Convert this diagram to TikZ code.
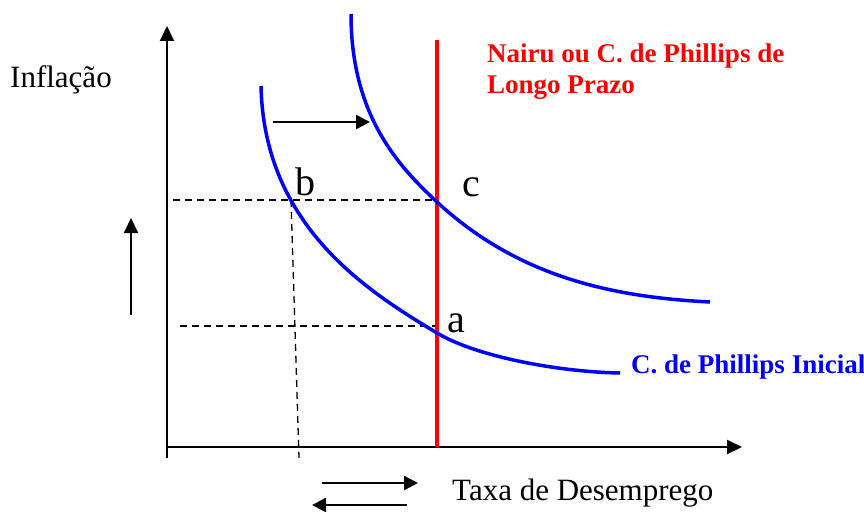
\documentclass[tikz,border=0pt]{standalone}
\usepackage{fontspec}
\setmainfont{Liberation Serif}
\usetikzlibrary{arrows.meta}

\begin{document}
\begin{tikzpicture}[
  x=1pt, y=-1pt,
  axis/.style={line width=2pt, -{Triangle[length=15pt,width=14pt]}},
  arrow/.style={line width=2.5pt, -{Triangle[length=14pt,width=14pt]}},
  guide/.style={line width=1.3pt, dash pattern=on 7pt off 5pt},
  curve/.style={blue, line width=3.5pt},
  label/.style={inner sep=0pt, anchor=base west, font=\fontsize{31}{36}\selectfont},
  point/.style={inner sep=0pt, anchor=base west, font=\fontsize{40}{44}\selectfont},
  tag/.style={inner sep=0pt, anchor=base west, align=left, font=\bfseries\fontsize{27}{31}\selectfont}
]
\useasboundingbox (0,0) rectangle (864,511);
% axes
\coordinate (ybot) at (167,458);
\coordinate (ytop) at (167,26);
\coordinate (xleft) at (167,447);
\coordinate (xright) at (742,447);
\draw[axis] (ybot) -- (ytop);
\draw[axis] (xleft) -- (xright);
\node[label] (inflacao) at (10,88) {Inflação};
\node[label] (taxa) at (452,500) {Taxa de Desemprego};
% points and guides
\coordinate (pb) at (291,200);
\coordinate (pc) at (437,200);
\coordinate (pa) at (437,326);
\coordinate (bleft) at (173,200);
\coordinate (aleft) at (180,326);
\coordinate (bfoot) at (299,458);
\draw[guide] (bleft) -- (pc);
\draw[guide] (aleft) -- (pa);
\draw[guide] (pb) -- (bfoot);
% long run curve
\coordinate (nairutop) at (437,40);
\coordinate (nairubot) at (437,447);
\draw[red, line width=4pt] (nairutop) -- (nairubot);
\node[tag, text=red] (nairu) at (487,93) {Nairu ou C. de Phillips de\\Longo Prazo};
% short run curves
\draw[curve] (261,86) .. controls (264,226) and (367,291) .. (437,333)
  .. controls (477,357) and (560,372) .. (620,373);
\draw[curve] (351,14) .. controls (351,114) and (397,165) .. (437,202)
  .. controls (517,276) and (610,297) .. (710,302);
\node[tag, text=blue] (inicial) at (631,373) {C. de Phillips Inicial};
\node[point] (lb) at (295,195) {b};
\node[point] (lc) at (462,196) {c};
\node[point] (la) at (447,332) {a};
% shifts
\coordinate (s1) at (273,122);
\coordinate (s2) at (370,122);
\draw[arrow] (s1) -- (s2);
\coordinate (u1) at (131,315);
\coordinate (u2) at (131,218);
\draw[axis] (u1) -- (u2);
\coordinate (r1) at (322,483);
\coordinate (r2) at (418,483);
\draw[arrow] (r1) -- (r2);
\coordinate (l1) at (407,505);
\coordinate (l2) at (312,505);
\draw[arrow] (l1) -- (l2);
\end{tikzpicture}
\end{document}
